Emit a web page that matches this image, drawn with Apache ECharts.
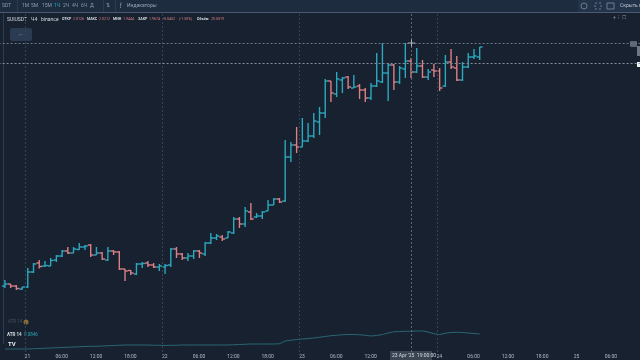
<!DOCTYPE html>
<html>
<head>
<meta charset="utf-8">
<style>
  html, body { margin: 0; padding: 0; background: #17212f; }
  #chart { width: 640px; height: 360px; }
</style>
<script src="https://cdn.jsdelivr.net/npm/echarts@6/dist/echarts.min.js"></script>
</head>
<body>
<div id="chart"></div>
<script>
// hours counted from 21 Apr 00:00, first bar is 20 Apr 20:00
const firstHour = -4;
const opens = [1.535,1.539,1.535,1.529,1.533,1.563,1.581,1.575,1.575,1.587,1.595,1.605,1.601,1.608,1.613,1.617,1.597,1.601,1.587,1.605,1.603,1.569,1.566,1.559,1.579,1.581,1.577,1.573,1.573,1.577,1.609,1.599,1.591,1.595,1.605,1.599,1.621,1.631,1.633,1.631,1.641,1.669,1.659,1.683,1.673,1.675,1.685,1.697,1.709,1.705,1.793,1.817,1.813,1.825,1.835,1.863,1.881,1.945,1.919,1.947,1.953,1.931,1.935,1.927,1.911,1.935,1.943,1.961,1.977,1.943,1.969,1.985,1.963,1.975,1.953,1.967,1.965,1.935,1.983,1.971,1.947,1.973,1.993,1.993];
const closes = [1.539,1.535,1.530,1.533,1.563,1.579,1.574,1.576,1.586,1.595,1.605,1.601,1.609,1.613,1.615,1.597,1.601,1.589,1.605,1.603,1.569,1.565,1.561,1.579,1.580,1.577,1.573,1.575,1.576,1.609,1.599,1.591,1.595,1.605,1.601,1.621,1.631,1.635,1.629,1.643,1.669,1.659,1.685,1.669,1.675,1.683,1.697,1.709,1.703,1.793,1.817,1.813,1.825,1.835,1.865,1.881,1.945,1.921,1.949,1.951,1.933,1.933,1.927,1.911,1.935,1.945,1.961,1.977,1.943,1.971,1.985,1.963,1.975,1.953,1.963,1.965,1.931,1.983,1.973,1.947,1.973,1.993,1.995,2.013];
const highs = [1.547,1.539,1.537,1.533,1.571,1.581,1.587,1.585,1.591,1.597,1.607,1.613,1.613,1.621,1.617,1.619,1.613,1.603,1.613,1.607,1.605,1.569,1.567,1.581,1.583,1.585,1.581,1.579,1.579,1.611,1.613,1.601,1.601,1.607,1.607,1.623,1.641,1.639,1.637,1.645,1.673,1.673,1.693,1.701,1.681,1.685,1.707,1.711,1.711,1.827,1.823,1.853,1.871,1.861,1.881,1.893,1.949,1.945,1.963,1.953,1.955,1.957,1.939,1.931,1.941,2.001,2.021,1.981,1.979,1.975,2.021,1.991,2.011,1.987,1.969,1.979,1.971,1.997,2.009,1.995,1.983,2.001,2.009,2.013];
const lows = [1.531,1.531,1.527,1.527,1.531,1.561,1.570,1.573,1.575,1.583,1.593,1.599,1.601,1.607,1.607,1.593,1.597,1.587,1.585,1.597,1.567,1.545,1.557,1.557,1.571,1.573,1.571,1.565,1.559,1.573,1.591,1.587,1.585,1.589,1.591,1.595,1.619,1.627,1.625,1.631,1.639,1.651,1.653,1.667,1.671,1.669,1.685,1.697,1.701,1.703,1.783,1.801,1.813,1.823,1.831,1.837,1.871,1.903,1.913,1.921,1.929,1.931,1.909,1.903,1.907,1.933,1.941,1.905,1.927,1.939,1.951,1.951,1.961,1.951,1.947,1.953,1.925,1.933,1.969,1.945,1.945,1.971,1.989,1.987];
const atr = [.012,.012,.012,.012,.012,.013,.014,.015,.016,.017,.018,.019,.020,.021,.022,.023,.023,.024,.025,.026,.027,.028,.028,.028,.028,.028,.027,.027,.026,.027,.027,.028,.028,.028,.028,.028,.028,.028,.028,.028,.029,.030,.031,.032,.032,.032,.032,.032,.033,.044,.047,.050,.052,.054,.056,.059,.062,.065,.067,.069,.070,.070,.069,.067,.064,.066,.070,.076,.081,.082,.083,.083,.084,.084,.080,.073,.070,.075,.078,.079,.078,.076,.074,.072];
const dayLabels = { 0: "21", 24: "22", 48: "23", 72: "24", 96: "25" };
const dayHours = [0, 24, 48, 72];
const crossHour = 67.5;
const crossPrice = 2.021;
const lastPrice = 1.979;

const upColor = "#2ba9bf";
const downColor = "#dc7f86";
const bg = "#17212f";
const textColor = "#b4bcc7";
const font = "Roboto";

const bars = opens.map((o, i) => [firstHour + i + 0.5, o, closes[i], lows[i], highs[i]]);
const atrLine = atr.map((v, i) => [firstHour + i + 0.5, v]);

function renderBar(params, api) {
  const hour = api.value(0);
  const up = api.value(2) >= api.value(1);
  const half = api.size([1, 0])[0] / 2;
  const o = api.coord([hour, api.value(1)]);
  const c = api.coord([hour, api.value(2)]);
  const l = api.coord([hour, api.value(3)]);
  const h = api.coord([hour, api.value(4)]);
  const style = { stroke: up ? upColor : downColor, lineWidth: 1.4, fill: null };
  return {
    type: "group",
    children: [
      { type: "line", shape: { x1: h[0], y1: h[1], x2: l[0], y2: l[1] }, style: style },
      { type: "line", shape: { x1: o[0] - half, y1: o[1], x2: o[0], y2: o[1] }, style: style },
      { type: "line", shape: { x1: c[0], y1: c[1], x2: c[0] + half, y2: c[1] }, style: style }
    ]
  };
}

function vLines(extra) {
  return dayHours.map(h => ({ xAxis: h, lineStyle: { color: "#36424f", type: [2, 2], width: 1 } })).concat([
    { xAxis: crossHour, lineStyle: { color: "#5d6876", type: [2, 2], width: 1 } }
  ]).concat(extra || []);
}

function smallText(x, y, text, color, size, weight) {
  return {
    type: "text", x: x, y: y, silent: true,
    style: { text: text, fill: color || textColor, font: (weight || "normal") + " " + (size || 5) + "px " + font, textVerticalAlign: "middle" }
  };
}

const toolbarItems = [["SDT", 2], ["1М", 22], ["5М", 31], ["15М", 42], ["2Ч", 63], ["4Ч", 72], ["6Ч", 81], ["Д", 90]];

const graphics = [
  { type: "rect", shape: { x: 0, y: 0, width: 640, height: 12 }, style: { fill: "#1e2c40" }, silent: true },
  { type: "rect", shape: { x: 0, y: 12, width: 640, height: 1 }, style: { fill: "#4a5a70" }, silent: true },
  { type: "rect", shape: { x: 3, y: 13, width: 1, height: 331 }, style: { fill: "#2c3c50" }, silent: true },
  { type: "rect", shape: { x: 10, y: 28, width: 22, height: 13, r: 2 }, style: { fill: "#2a3b52" }, silent: true },
  smallText(18, 34.5, "←", "#8d9bad", 6),
  { type: "rect", shape: { x: 17, y: 0, width: 1, height: 12 }, style: { fill: "#2b3a50" }, silent: true },
  { type: "rect", shape: { x: 103, y: 0, width: 1, height: 12 }, style: { fill: "#2b3a50" }, silent: true },
  { type: "rect", shape: { x: 115, y: 0, width: 1, height: 12 }, style: { fill: "#2b3a50" }, silent: true },
  smallText(54, 6, "1Ч", upColor, 5),
  smallText(106, 6, "⇅", "#8d9bad", 5),
  smallText(120, 6, "ƒ", "#9aa7b6", 5),
  smallText(127, 6, "Индикаторы", "#9aa7b6", 5),
  { type: "rect", shape: { x: 578, y: 0, width: 62, height: 12 }, style: { fill: "#23334a" }, silent: true },
  { type: "circle", shape: { cx: 584, cy: 6, r: 3 }, style: { stroke: "#6e7c8e", fill: "none", lineWidth: 1 }, silent: true },
  { type: "rect", shape: { x: 595, y: 3, width: 6, height: 6 }, style: { stroke: "#6e7c8e", fill: "none", lineWidth: 1, lineDash: [2, 2] }, silent: true },
  { type: "rect", shape: { x: 607, y: 3, width: 7, height: 6 }, style: { stroke: "#6e7c8e", fill: "none", lineWidth: 1 }, silent: true },
  smallText(620, 6, "Скрыть в", "#b7c0cc", 5),
  smallText(7, 19.5, "SUIUSDT", "#d5dae1", 5),
  smallText(31, 19.5, "Ч4", "#d5dae1", 5),
  smallText(41, 19.5, "binance", "#d5dae1", 5),
  smallText(62, 19.5, "ОТКР", "#d5dae1", 3.6, "bold"),
  smallText(73, 19.5, "2.0126", downColor, 3.6),
  smallText(87, 19.5, "МАКС", "#d5dae1", 3.6, "bold"),
  smallText(99, 19.5, "2.0212", downColor, 3.6),
  smallText(113, 19.5, "МИН", "#d5dae1", 3.6, "bold"),
  smallText(123, 19.5, "1.9444", downColor, 3.6),
  smallText(138, 19.5, "ЗАКР", "#d5dae1", 3.6, "bold"),
  smallText(149, 19.5, "1.9674", downColor, 3.6),
  smallText(163, 19.5, "-0.0452", downColor, 3.6),
  smallText(179, 19.5, "(-1.50%)", downColor, 3.6),
  smallText(197, 19.5, "Объём", "#d5dae1", 3.6, "bold"),
  smallText(211, 19.5, "20.5019", downColor, 3.6),
  smallText(8, 322, "ATR 14", "#46525f", 4.5),
  { type: "circle", shape: { cx: 26, cy: 322, r: 2.5 }, style: { fill: "#8a6c35" }, silent: true },
  smallText(7, 335, "ATR 14", "#d5dae1", 4.5, "bold"),
  smallText(24, 335, "0.0846", upColor, 4.5),
  smallText(8, 344, "TV", "#e8ecf0", 6, "bold"),
  { type: "rect", shape: { x: 390, y: 351, width: 42, height: 9 }, style: { fill: "#3a4452" }, silent: true },
  smallText(392, 355.5, "23 Apr '25  19:00:00", "#d5dae1", 5),
  smallText(613, 18, "+  ⁝  ☐", "#8d9bad", 5),
  { type: "rect", shape: { x: 408, y: 42.5, width: 7, height: 1 }, style: { fill: "#aab2bc" }, silent: true, z: 20 },
  { type: "rect", shape: { x: 411, y: 39.5, width: 1, height: 7 }, style: { fill: "#aab2bc" }, silent: true, z: 20 },
  { type: "rect", shape: { x: 630, y: 41, width: 7, height: 6, r: 1 }, style: { fill: "#5b6675" }, silent: true },
  { type: "rect", shape: { x: 637, y: 46, width: 3, height: 10 }, style: { fill: "#6c7686" }, silent: true },
  { type: "rect", shape: { x: 637, y: 62, width: 3, height: 5 }, style: { fill: "#f1f3f5" }, silent: true }
].concat(toolbarItems.map(t => smallText(t[1], 6, t[0], "#8d9bad", 5)));

const option = {
  backgroundColor: bg,
  animation: false,
  graphic: graphics,
  grid: [
    { left: -9.4, width: 652.1, top: 13, height: 291, outerBoundsMode: "none" },
    { left: -9.4, width: 652.1, top: 304, height: 48, outerBoundsMode: "none" }
  ],
  xAxis: [
    {
      gridIndex: 0, type: "value", min: -6, max: 108, interval: 6,
      axisLine: { show: false }, axisTick: { show: false }, axisLabel: { show: false }, splitLine: { show: false }
    },
    {
      gridIndex: 1, type: "value", min: -6, max: 108, interval: 6,
      axisLine: { show: false }, axisTick: { show: false }, splitLine: { show: false },
      axisLabel: {
        color: textColor, fontSize: 5, fontFamily: font, margin: 2, padding: [0, 0, 0, 5],
        showMinLabel: false, showMaxLabel: false,
        formatter: v => {
          if (v === 66) return "";
          if (dayLabels[v]) return dayLabels[v];
          return String(((v % 24) + 24) % 24).padStart(2, "0") + ":00";
        }
      }
    }
  ],
  yAxis: [
    { gridIndex: 0, type: "value", min: 1.499, max: 2.081, show: false, splitLine: { show: false } },
    { gridIndex: 1, type: "value", min: 0, max: 0.192, show: false, splitLine: { show: false } }
  ],
  series: [
    {
      type: "custom", xAxisIndex: 0, yAxisIndex: 0, data: bars, renderItem: renderBar, clip: true,
      encode: { x: 0, y: [1, 2, 3, 4] },
      markLine: {
        silent: true, symbol: "none", label: { show: false }, animation: false,
        data: vLines([
          { yAxis: crossPrice, lineStyle: { color: "#6f7986", type: [2, 2], width: 1 } },
          { yAxis: lastPrice, lineStyle: { color: "#858e9a", type: [2, 2], width: 1 } }
        ])
      }
    },
    {
      type: "line", xAxisIndex: 1, yAxisIndex: 1, data: atrLine, showSymbol: false,
      lineStyle: { color: "#2a6675", width: 1 },
      markLine: {
        silent: true, symbol: "none", label: { show: false }, animation: false,
        data: vLines()
      }
    }
  ]
};

const chart = echarts.init(document.getElementById("chart"));
chart.setOption(option);
</script>
</body>
</html>
